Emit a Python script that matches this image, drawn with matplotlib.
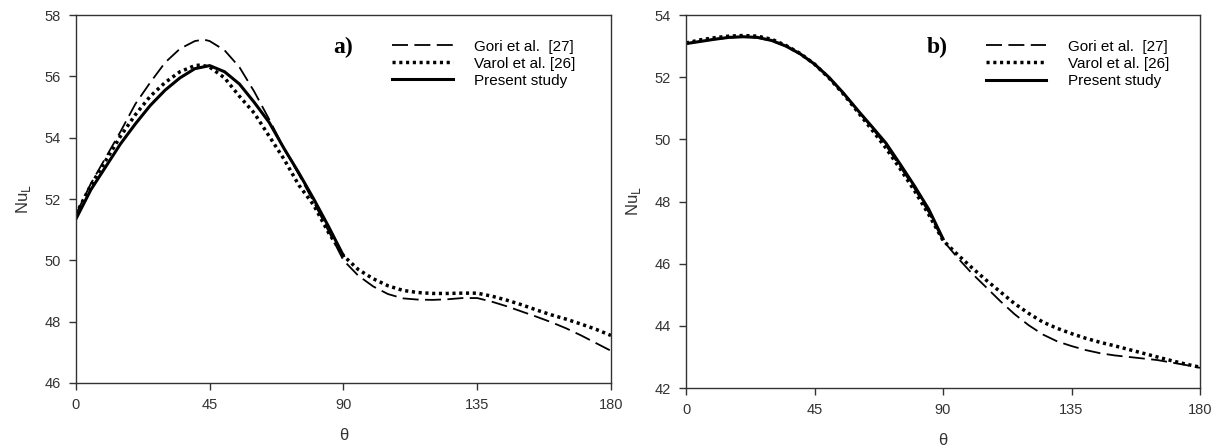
import numpy as np
import matplotlib
matplotlib.use("Agg")
import matplotlib.pyplot as plt

plt.rcParams['font.family'] = ['Liberation Sans', 'DejaVu Sans']

# ---- panel a) data ----
theta_a_present = [0, 5, 10, 15, 20, 25, 30, 35, 40, 45, 50, 55, 60, 65, 70, 75, 80, 85, 90]
nu_a_present = [51.35, 52.3, 53.05, 53.8, 54.45, 55.05, 55.55, 55.95, 56.25, 56.35,
                56.15, 55.75, 55.15, 54.5, 53.65, 52.85, 52.0, 51.1, 50.15]

theta_a_gori = [0, 5, 10, 15, 20, 25, 30, 35, 40, 43, 45, 50, 55, 60, 65, 70, 75, 80, 85, 90,
                95, 100, 105, 110, 115, 120, 125, 130, 135, 140, 145, 150, 155, 160, 165, 170, 175, 180]
nu_a_gori = [51.5, 52.5, 53.35, 54.2, 55.1, 55.8, 56.45, 56.9, 57.15, 57.2, 57.15, 56.85, 56.3,
             55.5, 54.6, 53.65, 52.8, 51.9, 50.95, 50.0, 49.5, 49.15, 48.9, 48.76, 48.72, 48.71,
             48.73, 48.77, 48.77, 48.65, 48.5, 48.33, 48.16, 47.98, 47.78, 47.55, 47.3, 47.05]

theta_a_varol = [0, 5, 10, 15, 20, 25, 30, 35, 40, 42, 45, 50, 55, 60, 65, 70, 75, 80, 85, 90,
                 95, 100, 105, 110, 115, 120, 125, 130, 135, 140, 145, 150, 155, 160, 165, 170, 175, 180]
nu_a_varol = [51.5, 52.45, 53.25, 54.05, 54.75, 55.35, 55.8, 56.15, 56.35, 56.37, 56.3, 55.95,
              55.35, 54.8, 54.05, 53.3, 52.45, 51.8, 50.9, 50.15, 49.7, 49.4, 49.17, 49.02, 48.95,
              48.92, 48.92, 48.93, 48.93, 48.83, 48.7, 48.55, 48.38, 48.22, 48.08, 47.92, 47.75, 47.55]

# ---- panel b) data ----
theta_b_present = [0, 5, 10, 15, 20, 25, 30, 35, 40, 45, 50, 55, 60, 65, 70, 75, 80, 85, 90]
nu_b_present = [53.08, 53.15, 53.22, 53.28, 53.3, 53.28, 53.18, 53.0, 52.75, 52.42,
                52.0, 51.5, 50.95, 50.42, 49.88, 49.2, 48.5, 47.75, 46.8]

theta_b_others = [0, 5, 10, 15, 20, 25, 30, 35, 40, 45, 50, 55, 60, 65, 70, 75, 80, 85, 90,
                  95, 100, 105, 110, 115, 120, 125, 130, 135, 140, 145, 150, 155, 160, 165, 170, 175, 180]
nu_b_gori = [53.08, 53.15, 53.22, 53.27, 53.3, 53.27, 53.17, 53.0, 52.75, 52.42, 52.0, 51.5,
             50.95, 50.38, 49.8, 49.12, 48.42, 47.65, 46.75, 46.2, 45.7, 45.25, 44.8, 44.38,
             44.02, 43.72, 43.5, 43.35, 43.22, 43.12, 43.05, 43.0, 42.95, 42.9, 42.82, 42.74, 42.65]
nu_b_varol = [53.1, 53.2, 53.27, 53.32, 53.34, 53.32, 53.22, 53.02, 52.76, 52.42, 51.98, 51.47,
              50.9, 50.32, 49.72, 49.05, 48.35, 47.58, 46.75, 46.3, 45.88, 45.48, 45.1, 44.72,
              44.4, 44.12, 43.92, 43.75, 43.6, 43.47, 43.36, 43.24, 43.12, 43.0, 42.88, 42.77, 42.67]

labels = ['Gori et al.  [27]', 'Varol et al. [26]', 'Present study']
xticks = [0, 45, 90, 135, 180]

fig = plt.figure(figsize=(12.27, 4.48), dpi=100)
ax_a = fig.add_axes([0.0619, 0.1451, 0.436, 0.8214])
ax_b = fig.add_axes([0.5591, 0.1339, 0.4189, 0.8326])

# dash pattern chosen so that three whole dashes fill the legend handle
dash_style = dict(color='black', lw=1.3, ls=(0, (8.85, 3.55)))
dot_style = dict(color='black', lw=2.5, ls=(0, (0.9, 1.05)))
solid_style = dict(color='black', lw=2.2, ls='-')


def style_axis(ax, ylim, yticks, tag, tag_x, leg_x):
    ax.set_xlim(0, 180)
    ax.set_ylim(*ylim)
    ax.set_xticks(xticks)
    ax.set_yticks(yticks)
    ax.tick_params(direction='out', length=5, width=1, pad=6, labelsize=10.5,
                   labelcolor='#333333', color='#333333')
    for s in ax.spines.values():
        s.set_color('#333333')
        s.set_linewidth(1)
    ax.set_xlabel('θ', fontsize=12, color='#333333', labelpad=11)
    ax.set_ylabel(r'Nu$_{\rm L}$', fontsize=12, color='#333333', labelpad=8)
    ax.text(tag_x, 0.913, tag, transform=ax.transAxes, fontsize=17, fontweight='bold',
            family='Liberation Serif', ha='center', va='center')
    ax.legend(loc='upper left', bbox_to_anchor=(leg_x, 0.95), frameon=False, fontsize=11,
              handlelength=3.95, handletextpad=1.4, labelspacing=0.2, borderaxespad=0)


l1, = ax_a.plot(theta_a_gori, nu_a_gori, **dash_style)
l2, = ax_a.plot(theta_a_varol, nu_a_varol, **dot_style)
l3, = ax_a.plot(theta_a_present, nu_a_present, **solid_style)
for l, lab in zip([l1, l2, l3], labels):
    l.set_label(lab)
style_axis(ax_a, (46, 58), [46, 48, 50, 52, 54, 56, 58], 'a)', 0.5, 0.58)

m1, = ax_b.plot(theta_b_others, nu_b_gori, **dash_style)
m2, = ax_b.plot(theta_b_others, nu_b_varol, **dot_style)
m3, = ax_b.plot(theta_b_present, nu_b_present, **solid_style)
for l, lab in zip([m1, m2, m3], labels):
    l.set_label(lab)
style_axis(ax_b, (42, 54), [42, 44, 46, 48, 50, 52, 54], 'b)', 0.488, 0.572)

fig.savefig('out.png', dpi=100)
